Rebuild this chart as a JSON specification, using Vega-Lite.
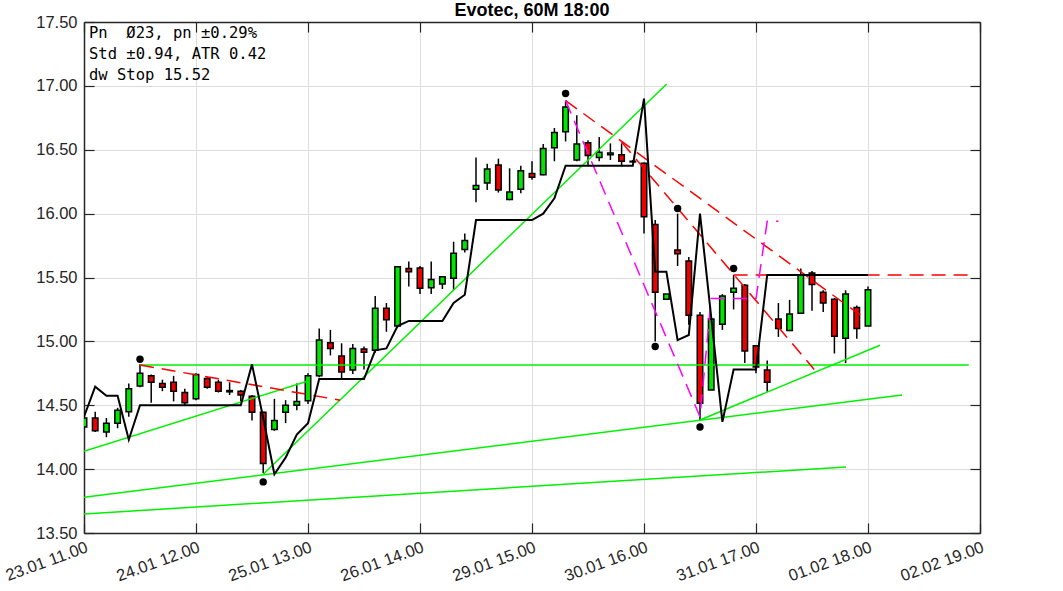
{
  "$schema": "https://vega.github.io/schema/vega-lite/v6.json",
  "width": 896,
  "height": 511,
  "autosize": {"type": "none"},
  "padding": {"left": 84, "top": 22, "right": 83, "bottom": 58},
  "background": "white",
  "title": {"text": "Evotec, 60M 18:00", "font": "Liberation Sans", "fontSize": 18, "fontWeight": "bold", "color": "#000000", "anchor": "middle", "offset": -6},
  "config": {"view": {"stroke": null}, "scale": {"continuousPadding": 0}},
  "datasets": {
    "candles": [
      {"i":0,"o":14.33,"h":14.42,"l":14.31,"c":14.40},
      {"i":1,"o":14.40,"h":14.45,"l":14.29,"c":14.30},
      {"i":2,"o":14.29,"h":14.40,"l":14.25,"c":14.36},
      {"i":3,"o":14.36,"h":14.48,"l":14.32,"c":14.46},
      {"i":4,"o":14.45,"h":14.67,"l":14.41,"c":14.63},
      {"i":5,"o":14.65,"h":14.82,"l":14.64,"c":14.75},
      {"i":6,"o":14.73,"h":14.74,"l":14.52,"c":14.68},
      {"i":7,"o":14.67,"h":14.70,"l":14.61,"c":14.64},
      {"i":8,"o":14.68,"h":14.73,"l":14.53,"c":14.61},
      {"i":9,"o":14.60,"h":14.63,"l":14.50,"c":14.52},
      {"i":10,"o":14.55,"h":14.75,"l":14.54,"c":14.74},
      {"i":11,"o":14.71,"h":14.72,"l":14.63,"c":14.64},
      {"i":12,"o":14.68,"h":14.70,"l":14.60,"c":14.61},
      {"i":13,"o":14.615,"h":14.68,"l":14.58,"c":14.605},
      {"i":14,"o":14.61,"h":14.62,"l":14.53,"c":14.58},
      {"i":15,"o":14.57,"h":14.58,"l":14.38,"c":14.445},
      {"i":16,"o":14.445,"h":14.45,"l":13.97,"c":14.045},
      {"i":17,"o":14.31,"h":14.55,"l":14.30,"c":14.38},
      {"i":18,"o":14.445,"h":14.54,"l":14.36,"c":14.50},
      {"i":19,"o":14.50,"h":14.67,"l":14.46,"c":14.53},
      {"i":20,"o":14.535,"h":14.75,"l":14.51,"c":14.73},
      {"i":21,"o":14.73,"h":15.10,"l":14.72,"c":15.01},
      {"i":22,"o":14.99,"h":15.09,"l":14.89,"c":14.945},
      {"i":23,"o":14.885,"h":14.985,"l":14.71,"c":14.76},
      {"i":24,"o":14.775,"h":14.98,"l":14.745,"c":14.945},
      {"i":25,"o":14.94,"h":14.96,"l":14.78,"c":14.915},
      {"i":26,"o":14.93,"h":15.355,"l":14.91,"c":15.26},
      {"i":27,"o":15.26,"h":15.30,"l":15.075,"c":15.17},
      {"i":28,"o":15.12,"h":15.59,"l":15.11,"c":15.585},
      {"i":29,"o":15.57,"h":15.625,"l":15.43,"c":15.545},
      {"i":30,"o":15.575,"h":15.59,"l":15.37,"c":15.415},
      {"i":31,"o":15.42,"h":15.625,"l":15.37,"c":15.485},
      {"i":32,"o":15.45,"h":15.51,"l":15.41,"c":15.505},
      {"i":33,"o":15.495,"h":15.78,"l":15.40,"c":15.69},
      {"i":34,"o":15.72,"h":15.845,"l":15.695,"c":15.79},
      {"i":35,"o":16.19,"h":16.44,"l":16.09,"c":16.22},
      {"i":36,"o":16.24,"h":16.39,"l":16.185,"c":16.35},
      {"i":37,"o":16.38,"h":16.43,"l":16.165,"c":16.185},
      {"i":38,"o":16.11,"h":16.355,"l":16.105,"c":16.17},
      {"i":39,"o":16.19,"h":16.375,"l":16.16,"c":16.335},
      {"i":40,"o":16.315,"h":16.41,"l":16.265,"c":16.285},
      {"i":41,"o":16.305,"h":16.545,"l":16.30,"c":16.51},
      {"i":42,"o":16.515,"h":16.67,"l":16.41,"c":16.635},
      {"i":43,"o":16.64,"h":16.885,"l":16.565,"c":16.835},
      {"i":44,"o":16.42,"h":16.77,"l":16.41,"c":16.545},
      {"i":45,"o":16.555,"h":16.575,"l":16.37,"c":16.455},
      {"i":46,"o":16.44,"h":16.60,"l":16.41,"c":16.48},
      {"i":47,"o":16.46,"h":16.55,"l":16.42,"c":16.475},
      {"i":48,"o":16.46,"h":16.55,"l":16.37,"c":16.41},
      {"i":49,"o":16.41,"h":16.42,"l":16.40,"c":16.405},
      {"i":50,"o":16.395,"h":16.40,"l":15.845,"c":15.975},
      {"i":51,"o":15.915,"h":15.95,"l":15.00,"c":15.385},
      {"i":52,"o":15.33,"h":15.37,"l":15.33,"c":15.37},
      {"i":53,"o":15.715,"h":16.0,"l":15.59,"c":15.685},
      {"i":54,"o":15.63,"h":15.66,"l":15.13,"c":15.205},
      {"i":55,"o":15.205,"h":15.23,"l":14.385,"c":14.515},
      {"i":56,"o":14.62,"h":15.18,"l":14.62,"c":15.175},
      {"i":57,"o":15.135,"h":15.37,"l":15.09,"c":15.355},
      {"i":58,"o":15.385,"h":15.52,"l":15.25,"c":15.415},
      {"i":59,"o":15.44,"h":15.45,"l":14.83,"c":14.925},
      {"i":60,"o":14.965,"h":14.97,"l":14.75,"c":14.80},
      {"i":61,"o":14.775,"h":14.85,"l":14.605,"c":14.68},
      {"i":62,"o":15.175,"h":15.30,"l":15.035,"c":15.10},
      {"i":63,"o":15.085,"h":15.325,"l":15.08,"c":15.215},
      {"i":64,"o":15.22,"h":15.57,"l":15.22,"c":15.52},
      {"i":65,"o":15.535,"h":15.55,"l":15.24,"c":15.445},
      {"i":66,"o":15.385,"h":15.40,"l":15.23,"c":15.30},
      {"i":67,"o":15.33,"h":15.34,"l":14.905,"c":15.04},
      {"i":68,"o":15.025,"h":15.40,"l":14.83,"c":15.37},
      {"i":69,"o":15.265,"h":15.28,"l":15.02,"c":15.10},
      {"i":70,"o":15.12,"h":15.43,"l":15.12,"c":15.405}
    ],
    "stop": [
      {"i":0,"v":14.41},{"i":1,"v":14.645},{"i":2,"v":14.575},{"i":3,"v":14.575},{"i":4,"v":14.23},
      {"i":5,"v":14.50},{"i":6,"v":14.50},{"i":7,"v":14.50},{"i":8,"v":14.50},{"i":9,"v":14.50},
      {"i":10,"v":14.50},{"i":11,"v":14.50},{"i":12,"v":14.50},{"i":13,"v":14.50},{"i":14,"v":14.50},
      {"i":15,"v":14.82},{"i":16,"v":14.40},{"i":17,"v":13.96},{"i":18,"v":14.09},{"i":19,"v":14.27},
      {"i":20,"v":14.36},{"i":21,"v":14.705},{"i":22,"v":14.705},{"i":23,"v":14.705},{"i":24,"v":14.705},
      {"i":25,"v":14.705},{"i":26,"v":14.93},{"i":27,"v":14.945},{"i":28,"v":15.12},{"i":29,"v":15.16},
      {"i":30,"v":15.16},{"i":31,"v":15.16},{"i":32,"v":15.16},{"i":33,"v":15.30},{"i":34,"v":15.365},
      {"i":35,"v":15.95},{"i":36,"v":15.95},{"i":37,"v":15.95},{"i":38,"v":15.95},{"i":39,"v":15.95},
      {"i":40,"v":15.95},{"i":41,"v":16.0},{"i":42,"v":16.12},{"i":43,"v":16.375},{"i":44,"v":16.375},
      {"i":45,"v":16.375},{"i":46,"v":16.375},{"i":47,"v":16.375},{"i":48,"v":16.375},{"i":49,"v":16.375},
      {"i":50,"v":16.90},{"i":51,"v":15.545},{"i":52,"v":15.545},{"i":53,"v":15.01},{"i":54,"v":15.05},
      {"i":55,"v":16.0},{"i":56,"v":15.19},{"i":57,"v":14.37},{"i":58,"v":14.78},{"i":59,"v":14.78},
      {"i":60,"v":14.78},{"i":61,"v":15.52},{"i":62,"v":15.52},{"i":63,"v":15.52},{"i":64,"v":15.52},
      {"i":65,"v":15.52},{"i":66,"v":15.52},{"i":67,"v":15.52},{"i":68,"v":15.52},{"i":69,"v":15.52},
      {"i":70,"v":15.52}
    ],
    "green": [
      {"id":"g1","i":5,"v":14.815},{"id":"g1","i":79,"v":14.815},
      {"id":"g2","i":0,"v":14.14},{"id":"g2","i":20,"v":14.69},
      {"id":"g3","i":16,"v":13.96},{"id":"g3","i":52.03,"v":17.015},
      {"id":"g4","i":55,"v":14.385},{"id":"g4","i":71.07,"v":14.97},
      {"id":"g5","i":0,"v":13.78},{"id":"g5","i":73.04,"v":14.58},
      {"id":"g6","i":0,"v":13.649},{"id":"g6","i":68.04,"v":14.017}
    ],
    "red": [
      {"id":"r1","i":5,"v":14.815},{"id":"r1","i":22.86,"v":14.54},
      {"id":"r2","i":43,"v":16.885},{"id":"r2","i":69.3,"v":15.207},
      {"id":"r3","i":48,"v":16.56},{"id":"r3","i":65.2,"v":14.78},
      {"id":"r4","i":58,"v":15.52},{"id":"r4","i":79,"v":15.52}
    ],
    "magenta": [
      {"k":0,"i":43,"v":16.885},{"k":1,"i":55,"v":14.41},{"k":2,"i":56,"v":15.335},
      {"k":3,"i":60,"v":15.335},{"k":4,"i":61,"v":15.94},{"k":5,"i":62,"v":15.94}
    ],
    "dots": [
      {"i":5,"v":14.86},{"i":16,"v":13.90},{"i":43,"v":16.94},{"i":51,"v":14.96},
      {"i":53,"v":16.04},{"i":55,"v":14.33},{"i":58,"v":15.57}
    ]
  },
  "resolve": {"axis": {"x": "independent", "y": "independent"}},
  "layer": [
    {
      "data": {"name": "candles"},
      "mark": {"type": "rule", "color": "#000000", "strokeWidth": 1.5, "clip": true},
      "encoding": {
        "x": {"field": "i", "type": "quantitative",
              "scale": {"domain": [0, 80], "nice": false, "zero": false, "padding": 0},
              "axis": {"orient": "bottom", "title": null, "values": [0,10,20,30,40,50,60,70,80],
                       "labelExpr": "['23.01 11.00','24.01 12.00','25.01 13.00','26.01 14.00','29.01 15.00','30.01 16.00','31.01 17.00','01.02 18.00','02.02 19.00'][round(datum.value/10)]",
                       "labelAngle": -20, "labelAlign": "right", "labelBaseline": "top",
                       "labelFont": "Liberation Sans", "labelFontSize": 16.5, "labelColor": "#262626",
                       "labelPadding": 16, "labelFlush": false, "labelOverlap": false, "labelBound": false,
                       "tickSize": -10, "tickColor": "#262626", "tickWidth": 1.2,
                       "domainColor": "#262626", "domainWidth": 1.5,
                       "grid": true, "gridColor": "#dcdcdc", "gridWidth": 1}},
        "y": {"field": "l", "type": "quantitative",
              "scale": {"domain": [13.5, 17.5], "nice": false, "zero": false, "padding": 0},
              "axis": {"orient": "left", "title": null, "values": [13.5,14,14.5,15,15.5,16,16.5,17,17.5],
                       "format": ".2f", "labelFont": "Liberation Sans", "labelFontSize": 16.5, "labelColor": "#262626",
                       "labelPadding": 17, "labelFlush": false, "labelOverlap": false, "labelBound": false,
                       "tickSize": -10, "tickColor": "#262626", "tickWidth": 1.2,
                       "domainColor": "#262626", "domainWidth": 1.5,
                       "grid": true, "gridColor": "#dcdcdc", "gridWidth": 1}},
        "y2": {"field": "h"}
      }
    },
    {
      "data": {"name": "candles"},
      "mark": {"type": "bar", "size": 5.5, "stroke": "#000000", "strokeWidth": 1.5, "clip": true},
      "encoding": {
        "x": {"field": "i", "type": "quantitative", "scale": {"domain": [0, 80], "nice": false, "zero": false, "padding": 0}, "axis": null},
        "y": {"field": "o", "type": "quantitative", "scale": {"domain": [13.5, 17.5], "nice": false, "zero": false, "padding": 0}, "axis": null},
        "y2": {"field": "c"},
        "color": {"condition": {"test": "datum.c >= datum.o", "value": "#00e600"}, "value": "#ee0000"}
      }
    },
    {
      "data": {"name": "green"},
      "mark": {"type": "line", "color": "#00f000", "strokeWidth": 1.5, "clip": true},
      "encoding": {
        "x": {"field": "i", "type": "quantitative", "scale": {"domain": [0, 80], "nice": false, "zero": false, "padding": 0}, "axis": null},
        "y": {"field": "v", "type": "quantitative", "scale": {"domain": [13.5, 17.5], "nice": false, "zero": false, "padding": 0}, "axis": null},
        "detail": {"field": "id"}
      }
    },
    {
      "data": {"name": "red"},
      "mark": {"type": "line", "color": "#ff0000", "strokeWidth": 1.5, "strokeDash": [14, 8], "clip": true},
      "encoding": {
        "x": {"field": "i", "type": "quantitative", "scale": {"domain": [0, 80], "nice": false, "zero": false, "padding": 0}, "axis": null},
        "y": {"field": "v", "type": "quantitative", "scale": {"domain": [13.5, 17.5], "nice": false, "zero": false, "padding": 0}, "axis": null},
        "detail": {"field": "id"}
      }
    },
    {
      "data": {"name": "magenta"},
      "mark": {"type": "line", "color": "#ff00ff", "strokeWidth": 1.5, "strokeDash": [14, 8], "clip": true},
      "encoding": {
        "x": {"field": "i", "type": "quantitative", "scale": {"domain": [0, 80], "nice": false, "zero": false, "padding": 0}, "axis": null},
        "y": {"field": "v", "type": "quantitative", "scale": {"domain": [13.5, 17.5], "nice": false, "zero": false, "padding": 0}, "axis": null},
        "order": {"field": "k"}
      }
    },
    {
      "data": {"name": "stop"},
      "mark": {"type": "line", "color": "#000000", "strokeWidth": 2, "clip": true},
      "encoding": {
        "x": {"field": "i", "type": "quantitative", "scale": {"domain": [0, 80], "nice": false, "zero": false, "padding": 0}, "axis": null},
        "y": {"field": "v", "type": "quantitative", "scale": {"domain": [13.5, 17.5], "nice": false, "zero": false, "padding": 0}, "axis": null}
      }
    },
    {
      "data": {"name": "dots"},
      "mark": {"type": "point", "filled": true, "color": "#000000", "size": 55, "opacity": 1},
      "encoding": {
        "x": {"field": "i", "type": "quantitative", "scale": {"domain": [0, 80], "nice": false, "zero": false, "padding": 0},
              "axis": {"orient": "top", "title": null, "values": [0,10,20,30,40,50,60,70,80], "labels": false,
                       "tickSize": -10, "tickColor": "#262626", "tickWidth": 1.2,
                       "domainColor": "#262626", "domainWidth": 1.5, "grid": false}},
        "y": {"field": "v", "type": "quantitative", "scale": {"domain": [13.5, 17.5], "nice": false, "zero": false, "padding": 0},
              "axis": {"orient": "right", "title": null, "values": [13.5,14,14.5,15,15.5,16,16.5,17,17.5], "labels": false,
                       "tickSize": -10, "tickColor": "#262626", "tickWidth": 1.2,
                       "domainColor": "#262626", "domainWidth": 1.5, "grid": false}}
      }
    },
    {
      "data": {"values": [{"t": "box"}]},
      "mark": {"type": "text", "text": ["Pn \u00a0Ø23, pn ±0.29%", "Std ±0.94, ATR 0.42", "dw Stop 15.52"],
               "font": "DejaVu Sans Mono", "fontSize": 15.5, "lineHeight": 20.8, "align": "left", "baseline": "alphabetic",
               "dx": 5, "dy": 16, "color": "#000000"},
      "encoding": {
        "x": {"datum": 0, "type": "quantitative", "scale": {"domain": [0, 80], "nice": false, "zero": false, "padding": 0}, "axis": null},
        "y": {"datum": 17.5, "type": "quantitative", "scale": {"domain": [13.5, 17.5], "nice": false, "zero": false, "padding": 0}, "axis": null}
      }
    }
  ]
}
